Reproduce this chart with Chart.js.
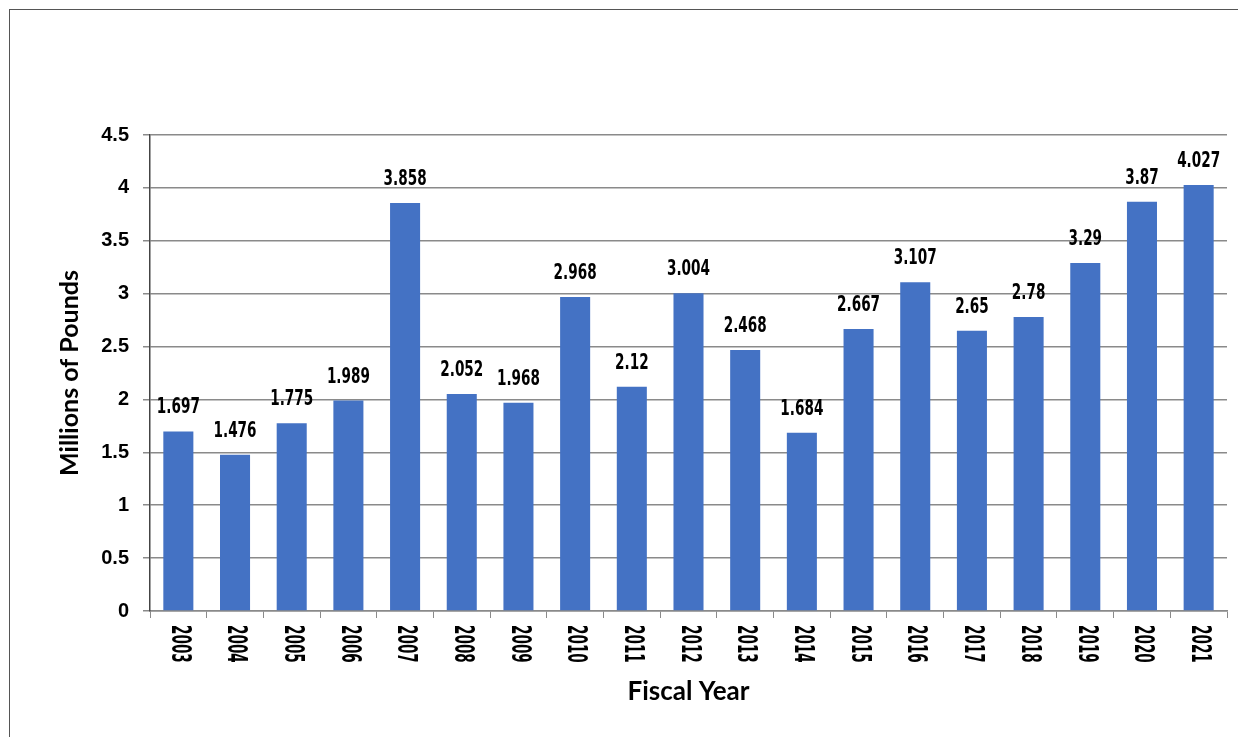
<!DOCTYPE html>
<html>
<head>
<meta charset="utf-8">
<script src="https://cdn.jsdelivr.net/npm/chart.js@4"></script>
<style>
  html, body { margin: 0; padding: 0; background: #fff; }
  #frame { position: absolute; left: 9px; top: 9px; width: 1229px; height: 728px;
           border-top: 1.5px solid #555; border-left: 1.5px solid #555; }
  #wrap { position: absolute; left: 0; top: 0; width: 1238px; height: 737px; }
</style>
</head>
<body>
<div id="frame"></div>
<div id="wrap"><canvas id="chart"></canvas></div>
<script>
// Fiscal years and pounds shipped (millions)
const years = ['2003', '2004', '2005', '2006', '2007', '2008', '2009', '2010', '2011', '2012',
               '2013', '2014', '2015', '2016', '2017', '2018', '2019', '2020', '2021'];
const pounds = [1.697, 1.476, 1.775, 1.989, 3.858, 2.052, 1.968, 2.968, 2.12, 3.004,
                2.468, 1.684, 2.667, 3.107, 2.65, 2.78, 3.29, 3.87, 4.027];
const yTicks = [0, 0.5, 1, 1.5, 2, 2.5, 3, 3.5, 4, 4.5];

const condensed = '"Liberation Sans Narrow", "DejaVu Sans Condensed", sans-serif';

// value labels above bars + rotated year labels (read top to bottom)
const labelPlugin = {
    id: 'barLabels',
    afterDatasetsDraw(chart) {
        const ctx = chart.ctx;
        const meta = chart.getDatasetMeta(0);
        ctx.save();
        ctx.fillStyle = '#000';
        ctx.font = 'bold 21px ' + condensed;
        ctx.textAlign = 'center';
        ctx.textBaseline = 'alphabetic';
        meta.data.forEach((bar, i) => {
            ctx.save();
            ctx.translate(bar.x, bar.y - 18);
            ctx.scale(0.72, 1);
            ctx.fillText(String(pounds[i]), 0, 0);
            ctx.restore();
        });

        const xs = chart.scales.x;
        ctx.font = 'bold 26px ' + condensed;
        years.forEach((yr, i) => {
            ctx.save();
            ctx.translate(xs.getPixelForTick(i), xs.top + 14);
            ctx.rotate(Math.PI / 2);
            ctx.scale(0.58, 1);
            ctx.textAlign = 'left';
            ctx.textBaseline = 'middle';
            ctx.fillText(yr, 0, 0);
            ctx.restore();
        });
        ctx.restore();
    }
};

const ctx = document.getElementById('chart').getContext('2d');
new Chart(ctx, {
    type: 'bar',
    data: {
        labels: years,
        datasets: [{
            data: pounds,
            backgroundColor: '#4472C4',
            categoryPercentage: 1,
            barPercentage: 0.53
        }]
    },
    options: {
        responsive: true,
        maintainAspectRatio: false,
        animation: false,
        layout: { padding: { top: 135, right: 11, left: 0, bottom: 0 } },
        plugins: {
            legend: { display: false },
            tooltip: { enabled: false }
        },
        scales: {
            x: {
                afterFit: s => { s.height = 126; },
                ticks: { display: false },
                grid: { drawOnChartArea: false, tickLength: 7, color: '#8a8a8a' },
                border: { color: '#8a8a8a', width: 1.5 },
                title: {
                    display: true, text: 'Fiscal Year', color: '#000',
                    font: { family: 'Lato', weight: 'bold', size: 26 },
                    padding: { top: 0, bottom: 30 }
                }
            },
            y: {
                min: 0, max: 4.5,
                afterFit: s => { s.width = 150; },
                afterBuildTicks: s => { s.ticks = yTicks.map(v => ({ value: v })); },
                ticks: {
                    color: '#000', padding: 14,
                    font: { family: '"Liberation Sans"', weight: 'bold', size: 20 },
                    callback: v => String(v)
                },
                grid: { color: '#8a8a8a', lineWidth: 1.5, tickLength: 7 },
                border: { color: '#444', width: 1.5 },
                title: {
                    display: true, text: 'Millions of Pounds', color: '#000',
                    font: { family: 'Lato', weight: 'bold', size: 25 },
                    padding: { top: 55, bottom: 0 }
                }
            }
        }
    },
    plugins: [labelPlugin]
});
</script>
</body>
</html>
